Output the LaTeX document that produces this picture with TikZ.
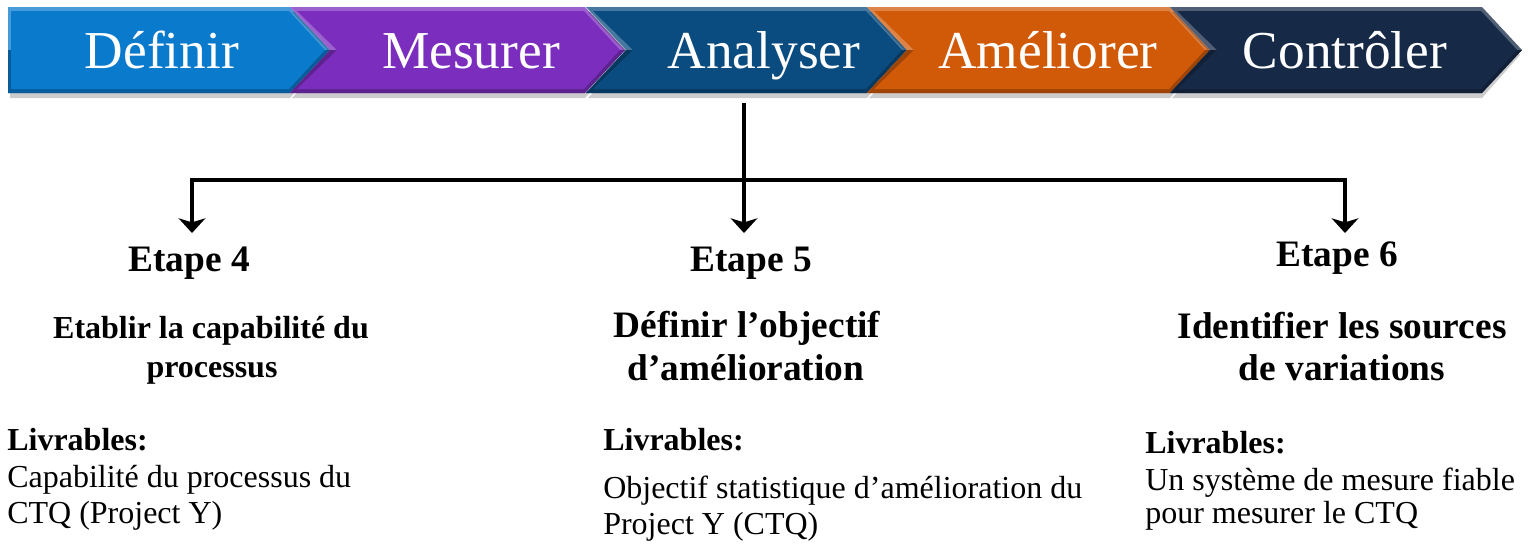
\documentclass[tikz,border=0pt]{standalone}
\usepackage{fontspec}
\setmainfont{Liberation Serif}
\usetikzlibrary{arrows.meta}

\definecolor{cDef}{RGB}{10,122,204}
\definecolor{cMes}{RGB}{123,45,189}
\definecolor{cAna}{RGB}{10,76,128}
\definecolor{cAme}{RGB}{209,90,8}
\definecolor{cCon}{RGB}{22,42,72}

% chevron: #1 left x, #2 right top-corner x, #3 notch depth, #4 colour
\newcommand\chevron[4]{%
  \fill[black,opacity=0.2] (#1+2,12) -- (#2,12) -- (#2+38,55) -- (#2,98)
        -- (#1+2,98) -- (#1+#3+2,55) -- cycle;
  \fill[#4!75!white] (#1,7) -- (#2,7) -- (#2+40,50) -- (#2,93) -- (#1,93)
        -- (#1+#3,50) -- cycle;
  \begin{scope}
    \clip (#1-5,50) rectangle (#2+45,100);
    \fill[#4!75!black] (#1,7) -- (#2,7) -- (#2+40,50) -- (#2,93) -- (#1,93)
          -- (#1+#3,50) -- cycle;
  \end{scope}
  \fill[#4] ({#1+3+0.1*#3},11) -- (#2-1,11) -- (#2+35,50) -- (#2-1,89)
        -- ({#1+3+0.1*#3},89) -- ({#1+1.0*#3+3+0.1*#3},50) -- cycle;
}

\tikzset{
  phase/.style={anchor=base, inner sep=0pt, text=white,
                font=\fontsize{40}{48}\selectfont},
  etape/.style={anchor=base, inner sep=0pt,
                font=\fontsize{28}{32}\selectfont\bfseries},
  title/.style={anchor=base, inner sep=0pt,
                font=\fontsize{28}{32}\selectfont\bfseries},
  smalltitle/.style={anchor=base, inner sep=0pt,
                font=\fontsize{24}{29}\selectfont\bfseries},
  livr/.style={anchor=base west, inner sep=0pt,
                font=\fontsize{24}{28}\selectfont\bfseries},
  body/.style={anchor=base west, inner sep=0pt,
                font=\fontsize{24}{28}\selectfont},
  wire/.style={line width=2.6pt, black},
  tip/.style={-{Stealth[length=11pt,width=20pt,inset=3pt]}},
}

\begin{document}
\begin{tikzpicture}[x=0.75pt,y=-0.75pt]
  \useasboundingbox (0,0) rectangle (1528,544);
  \fill[white] (0,0) rectangle (1528,544);

  % DMAIC phase bar
  \chevron{8}{290}{0}{cDef}
  \chevron{290}{585}{40}{cMes}
  \chevron{586}{867}{40}{cAna}
  \chevron{867}{1170}{40}{cAme}
  \chevron{1170}{1482}{40}{cCon}

  \node[phase] (def) at (162,68) {Définir};
  \node[phase] (mes) at (471,68) {Mesurer};
  \node[phase] (ana) at (764,68) {Analyser};
  \node[phase] (ame) at (1048,68) {Améliorer};
  \node[phase] (con) at (1345,68) {Contrôler};

  % connector tree from the Analyser phase
  \coordinate (anaB) at (744,103);
  \coordinate (hub) at (744,180);
  \coordinate (t4) at (192,233);
  \coordinate (t5) at (744,233);
  \coordinate (t6) at (1345,233);
  \draw[wire] (anaB) -- (hub);
  \draw[wire,tip] (hub) -- (t5);
  \draw[wire,tip] (hub) -| (t4);
  \draw[wire,tip] (hub) -| (t6);

  % step headings
  \node[etape] (e4) at (189,271) {Etape 4};
  \node[etape] (e5) at (751,271) {Etape 5};
  \node[etape] (e6) at (1337,266) {Etape 6};

  % step titles
  \node[smalltitle] (t4a) at (211,338) {Etablir la capabilité du};
  \node[smalltitle] (t4b) at (212,377) {processus};
  \node[title] (t5a) at (747,337) {Définir l’objectif};
  \node[title] (t5b) at (746,380) {d’amélioration};
  \node[title] (t6a) at (1342,338) {Identifier les sources};
  \node[title] (t6b) at (1342,380) {de variations};

  % deliverables
  \node[livr] (l4) at (7,450) {Livrables:};
  \node[body] (b4a) at (7,487) {Capabilité du processus du};
  \node[body] (b4b) at (7,523) {CTQ (Project Y)};

  \node[livr] (l5) at (603,450) {Livrables:};
  \node[body] (b5a) at (603,498) {Objectif statistique d’amélioration du};
  \node[body] (b5b) at (603,534) {Project Y (CTQ)};

  \node[livr] (l6) at (1145,453) {Livrables:};
  \node[body] (b6a) at (1145,490) {Un système de mesure fiable};
  \node[body] (b6b) at (1145,523) {pour mesurer le CTQ};
\end{tikzpicture}
\end{document}
